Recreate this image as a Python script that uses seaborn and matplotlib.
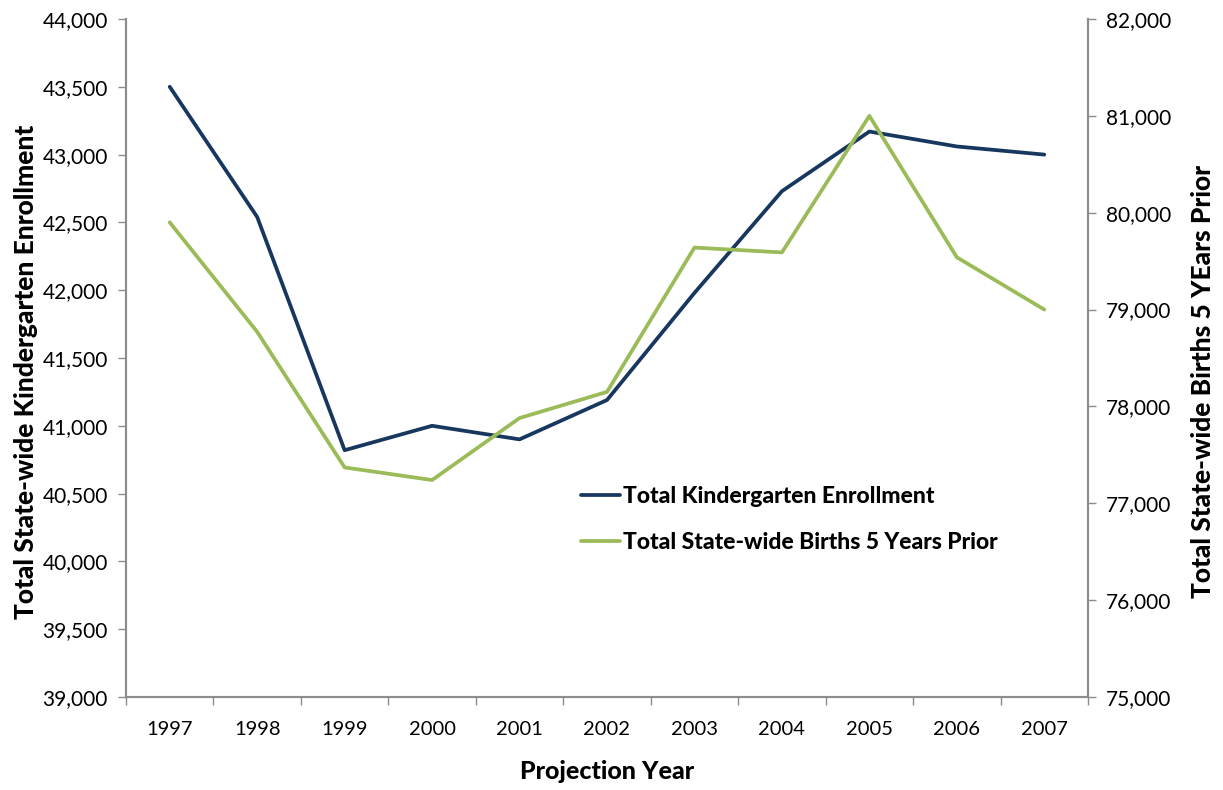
import matplotlib
matplotlib.use("Agg")
import matplotlib.pyplot as plt
from matplotlib.ticker import FuncFormatter, FixedLocator, MultipleLocator
import seaborn as sns
import pandas as pd

# Projection years and the two series
years = ["1997", "1998", "1999", "2000", "2001", "2002",
         "2003", "2004", "2005", "2006", "2007"]
enrollment = [43500, 42540, 40820, 41000, 40900, 41190,
              41980, 42730, 43170, 43060, 43000]
births = [79900, 78770, 77370, 77240, 77880, 78150,
          79640, 79590, 81000, 79540, 79000]

enroll_label = "Total Kindergarten Enrollment"
births_label = "Total State-wide Births 5 Years Prior"

navy = "#17375E"
green = "#9BBB59"
spine_gray = "#8C8C8C"

sns.set_theme(style="white")
plt.rcParams["font.family"] = ["Lato", "DejaVu Sans"]
plt.rcParams["text.color"] = "black"
plt.rcParams["axes.labelcolor"] = "black"

df = pd.DataFrame({"year": years, "enrollment": enrollment, "births": births})
df["pos"] = range(len(years))

fig = plt.figure(figsize=(12.23, 7.90), dpi=100)
ax = fig.add_axes([126 / 1223, 1 - 697 / 790, (1088 - 126) / 1223, (697 - 19) / 790])
ax2 = ax.twinx()

sns.lineplot(data=df, x="pos", y="enrollment", ax=ax, color=navy,
             linewidth=2.7, label=enroll_label, legend=False)
sns.lineplot(data=df, x="pos", y="births", ax=ax2, color=green,
             linewidth=2.7, label=births_label, legend=False)

# Category axis: tick marks at boundaries, labels at centres
ax.set_xlim(-0.5, len(years) - 0.5)
ax.xaxis.set_major_locator(FixedLocator([i - 0.5 for i in range(len(years) + 1)]))
ax.xaxis.set_minor_locator(FixedLocator(list(range(len(years)))))
ax.set_xticklabels([], minor=False)
ax.set_xticklabels(years, minor=True)
ax.tick_params(axis="x", which="major", direction="out", length=6, width=1,
               color=spine_gray, bottom=True)
ax.tick_params(axis="x", which="minor", length=0, pad=17, labelsize=14.5,
               labelcolor="black")

ax.set_ylim(39000, 44000)
ax.yaxis.set_major_locator(MultipleLocator(500))
ax2.set_ylim(75000, 82000)
ax2.yaxis.set_major_locator(MultipleLocator(1000))

fmt = FuncFormatter(lambda v, p: f"{int(v):,}")
ax.yaxis.set_major_formatter(fmt)
ax2.yaxis.set_major_formatter(fmt)

ax.tick_params(axis="y", direction="out", length=6, width=1, color=spine_gray,
               left=True, labelsize=15, labelcolor="black", pad=7)
ax2.tick_params(axis="y", direction="out", length=6, width=1, color=spine_gray,
                right=True, labelsize=15, labelcolor="black", pad=7)

for a in (ax, ax2):
    a.spines["top"].set_visible(False)
    for s in ("left", "right", "bottom"):
        a.spines[s].set_color(spine_gray)
        a.spines[s].set_linewidth(1.5)
    a.grid(False)

ax.set_xlabel("Projection Year", fontsize=18, fontweight="black", labelpad=16,
              color="black")
ax.set_ylabel("Total State-wide Kindergarten Enrollment", fontsize=19,
              fontweight="black", labelpad=3, color="black")
ax2.set_ylabel("Total State-wide Births 5 YEars Prior", fontsize=19,
               fontweight="black", labelpad=14, color="black")
# Axis titles sit slightly below the vertical middle of the plot
ax.yaxis.label.set_y(0.479)
ax2.yaxis.label.set_y(0.466)

h1, l1 = ax.get_legend_handles_labels()
h2, l2 = ax2.get_legend_handles_labels()
leg = ax2.legend(h1 + h2, l1 + l2, loc="upper left",
                 bbox_to_anchor=(0.452, 0.342), frameon=False,
                 handlelength=1.7, handletextpad=0.1, labelspacing=1.1,
                 prop={"size": 16.5, "weight": "black"})
for t in leg.get_texts():
    t.set_color("black")

fig.savefig("out.png", dpi=100)
